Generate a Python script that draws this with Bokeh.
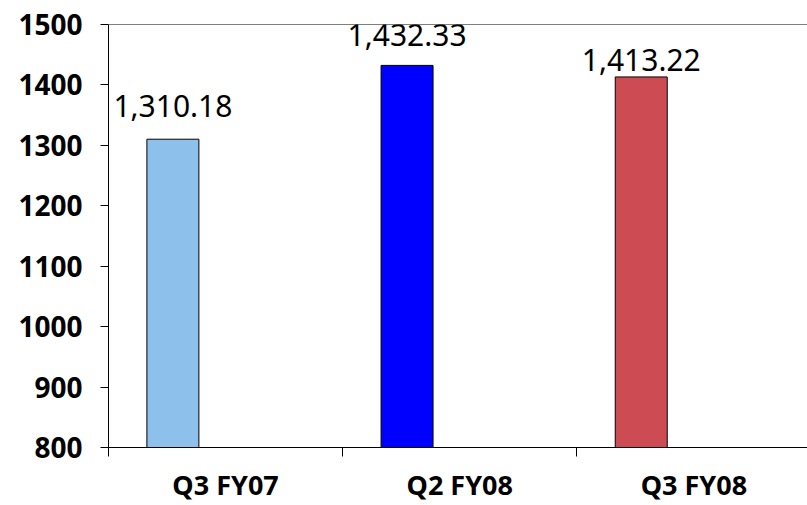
from bokeh.plotting import figure
from bokeh.models import ColumnDataSource, FixedTicker, LabelSet, Span, Range1d
from bokeh.core.properties import value
from bokeh.embed import file_html
from bokeh.resources import INLINE

# Quarterly values
quarters = ["Q3 FY07", "Q2 FY08", "Q3 FY08"]
values = [1310.18, 1432.33, 1413.22]
value_labels = ["1,310.18", "1,432.33", "1,413.22"]
bar_colors = ["#8DC0EB", "#0000FF", "#CD4C54"]
y_ticks = [800, 900, 1000, 1100, 1200, 1300, 1400, 1500]

# Styling: bars sit in the left part of each category slot
bar_shift = 0.275
bar_width = 0.222
label_lift = [22, 19, 6]

idx = list(range(len(quarters)))
source = ColumnDataSource(dict(
    x=[i + bar_shift for i in idx],
    top=values,
    color=bar_colors,
    label=value_labels,
    lift=label_lift,
))

p = figure(
    width=807, height=505,
    output_backend="svg", toolbar_location=None,
    x_range=Range1d(0, 2.985), y_range=Range1d(800, 1500),
    min_border_left=108, min_border_right=0,
    min_border_top=24, min_border_bottom=58,
)
p.outline_line_color = None
p.xgrid.visible = False
p.ygrid.visible = False

p.vbar(x="x", top="top", bottom=800, width=bar_width, source=source,
       fill_color="color", line_color="black", line_width=1)

labels = LabelSet(x="x", y="top", text="label", y_offset="lift", source=source,
                  text_align="center", text_baseline="alphabetic",
                  text_font=value("Noto Sans"), text_font_size=value("30px"),
                  text_color="black")
p.add_layout(labels)

# top border line of the plot area
p.add_layout(Span(location=1500, dimension="width", line_color="black", line_width=1))

# x axis: category names centred in each slot, ticks at slot boundaries
xax = p.xaxis[0]
xax.ticker = FixedTicker(ticks=[i + 0.5 for i in idx], minor_ticks=[0, 1, 2, 3])
xax.major_label_overrides = {i + 0.5: q for i, q in zip(idx, quarters)}
xax.major_tick_out = 0
xax.major_tick_in = 0
xax.minor_tick_out = 9
xax.minor_tick_in = 0
xax.minor_tick_line_color = "black"
xax.axis_line_color = "black"
xax.major_label_text_font = "Noto Sans"
xax.major_label_text_font_style = "bold"
xax.major_label_text_font_size = "27px"
xax.major_label_text_color = "black"
xax.major_label_standoff = 9

yax = p.yaxis[0]
yax.ticker = FixedTicker(ticks=y_ticks)
yax.major_tick_out = 8
yax.major_tick_in = 0
yax.minor_tick_out = 0
yax.minor_tick_in = 0
yax.axis_line_color = "black"
yax.major_tick_line_color = "black"
yax.major_label_text_font = "Noto Sans"
yax.major_label_text_font_style = "bold"
yax.major_label_text_font_size = "28px"
yax.major_label_text_color = "black"
yax.major_label_standoff = 18

open("out.html", "w").write(file_html(p, INLINE))
